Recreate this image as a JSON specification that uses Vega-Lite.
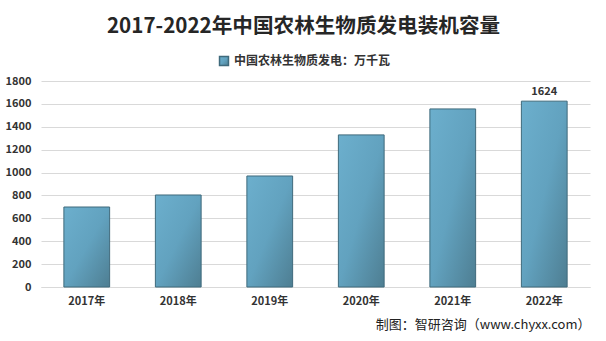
{
  "$schema": "https://vega.github.io/schema/vega-lite/v6.json",
  "autosize": "none",
  "width": 549,
  "height": 206,
  "padding": {"left": 41, "top": 81, "right": 16, "bottom": 54},
  "background": "#ffffff",
  "title": {
    "text": "2017-2022年中国农林生物质发电装机容量",
    "font": "Noto Sans CJK SC",
    "fontSize": 20.6,
    "fontWeight": "bold",
    "color": "#262626",
    "anchor": "middle",
    "dx": -12,
    "offset": 17
  },
  "data": {
    "values": [
      {"year": "2017年", "value": 699, "series": "中国农林生物质发电：万千瓦"},
      {"year": "2018年", "value": 804, "series": "中国农林生物质发电：万千瓦"},
      {"year": "2019年", "value": 970, "series": "中国农林生物质发电：万千瓦"},
      {"year": "2020年", "value": 1329, "series": "中国农林生物质发电：万千瓦"},
      {"year": "2021年", "value": 1556, "series": "中国农林生物质发电：万千瓦"},
      {"year": "2022年", "value": 1624, "series": "中国农林生物质发电：万千瓦", "label": "1624"}
    ]
  },
  "encoding": {
    "x": {
      "field": "year",
      "type": "nominal",
      "sort": null,
      "scale": {"paddingInner": 0.5, "paddingOuter": 0.25},
      "axis": {
        "title": "制图：智研咨询（www.chyxx.com）",
        "titleAnchor": "end",
        "titleAlign": "right",
        "titleFont": "Noto Sans CJK SC",
        "titleFontSize": 13,
        "titleFontWeight": "normal",
        "titleColor": "#222222",
        "titlePadding": 12,
        "labelAngle": 0,
        "labelFont": "Noto Sans CJK SC",
        "labelFontSize": 11,
        "labelFontWeight": "bold",
        "labelColor": "#333333",
        "labelPadding": 8,
        "ticks": false,
        "domain": true,
        "domainColor": "#d9d9d9",
        "grid": false
      }
    },
    "y": {
      "field": "value",
      "type": "quantitative",
      "scale": {"domain": [0, 1800]},
      "axis": {
        "title": null,
        "format": "d",
        "values": [0, 200, 400, 600, 800, 1000, 1200, 1400, 1600, 1800],
        "labelFont": "Noto Sans CJK SC",
        "labelFontSize": 11,
        "labelFontWeight": "bold",
        "labelColor": "#333333",
        "labelPadding": 10,
        "ticks": false,
        "domain": false,
        "grid": true,
        "gridColor": "#d9d9d9"
      }
    }
  },
  "layer": [
    {
      "mark": {
        "type": "bar",
        "fill": {
          "gradient": "linear",
          "x1": 0, "y1": 0, "x2": 1, "y2": 1,
          "stops": [
            {"offset": 0, "color": "#6CAFCD"},
            {"offset": 0.5, "color": "#62A2BF"},
            {"offset": 1, "color": "#4E7E92"}
          ]
        },
        "strokeWidth": 1
      },
      "encoding": {
        "stroke": {
          "field": "series",
          "type": "nominal",
          "scale": {"range": ["#3F6A7C"]},
          "legend": {
            "title": null,
            "orient": "none",
            "legendX": 177,
            "legendY": -26,
            "symbolType": "square",
            "symbolSize": 80,
            "labelFont": "Noto Sans CJK SC",
            "labelFontSize": 12,
            "labelFontWeight": "bold",
            "labelColor": "#333333",
            "labelOffset": 4,
            "encode": {"symbols": {"update": {"fill": {"value": "#5E9BB7"}, "stroke": {"value": "#3F6A7C"}}}}
          }
        }
      }
    },
    {
      "transform": [{"filter": "datum.label != null"}],
      "mark": {
        "type": "text",
        "dy": -9,
        "font": "Noto Sans CJK SC",
        "fontSize": 11,
        "fontWeight": "bold",
        "color": "#333333"
      },
      "encoding": {"text": {"field": "label"}}
    }
  ],
  "config": {"view": {"stroke": null}}
}
